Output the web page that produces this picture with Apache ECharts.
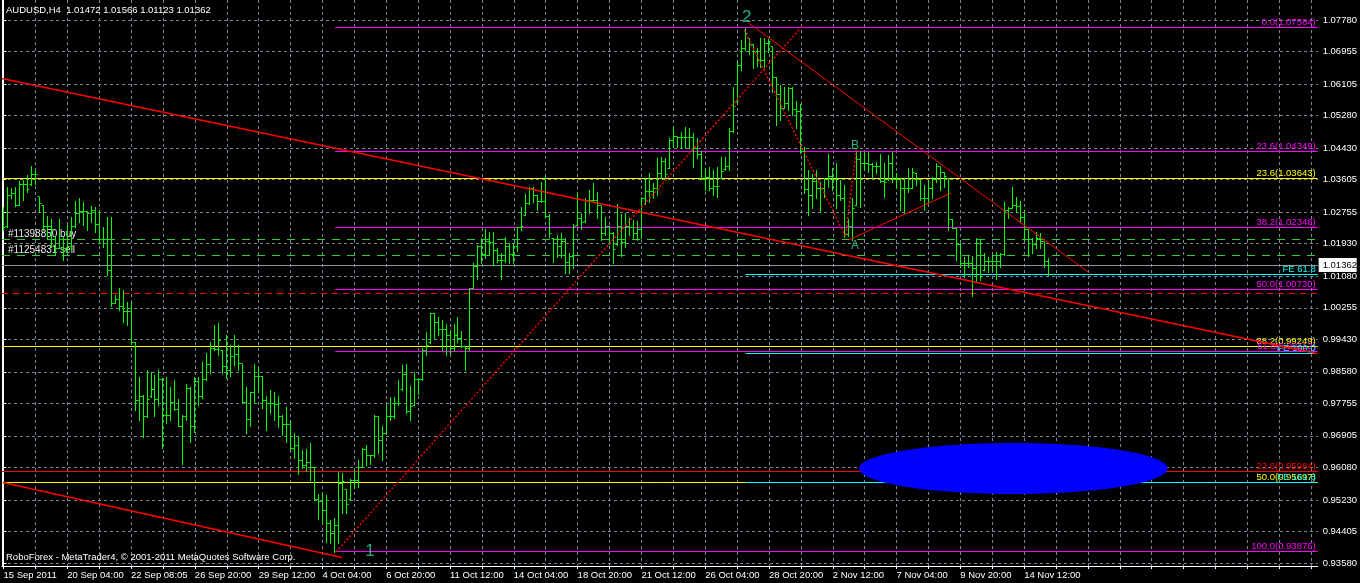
<!DOCTYPE html>
<html><head><meta charset="utf-8">
<script src="https://cdn.jsdelivr.net/npm/echarts@6/dist/echarts.min.js"></script>
<style>html,body{margin:0;padding:0;background:#000;}#c{width:1360px;height:583px;}</style>
</head><body><div id="c"></div>
<script>
// ---- OHLC data (H4 bars, index 0 = 15 Sep 2011) ----
const open = [
1.0262,1.0237,1.0320,1.0325,1.0294,1.0347,1.0349,1.0347,1.0373,1.0316,
1.0294,1.0237,1.0237,1.0211,1.0181,1.0203,1.0181,1.0185,1.0237,1.0272,
1.0277,1.0277,1.0272,1.0281,1.0242,1.0203,1.0203,1.0124,1.0037,1.0046,
1.0028,1.0015,1.0015,0.9934,0.9782,0.9793,0.9740,0.9793,0.9811,0.9786,
0.9837,0.9745,0.9745,0.9778,0.9760,0.9715,0.9740,0.9815,0.9715,0.9832,
0.9793,0.9837,0.9876,0.9920,0.9917,0.9915,0.9873,0.9861,0.9898,0.9902,
0.9879,0.9777,0.9734,0.9803,0.9847,0.9847,0.9784,0.9776,0.9776,0.9773,
0.9740,0.9719,0.9721,0.9658,0.9665,0.9625,0.9612,0.9620,0.9608,0.9525,
0.9520,0.9495,0.9462,0.9436,0.9455,0.9567,0.9549,0.9523,0.9575,0.9575,
0.9609,0.9655,0.9638,0.9638,0.9740,0.9678,0.9697,0.9740,0.9740,0.9776,
0.9811,0.9850,0.9754,0.9771,0.9837,0.9837,0.9915,0.9934,1.0011,0.9986,
0.9969,0.9969,0.9954,0.9920,0.9954,0.9946,0.9924,0.9920,1.0076,1.0133,
1.0187,1.0164,1.0198,1.0196,1.0175,1.0150,1.0150,1.0185,1.0164,1.0185,
1.0236,1.0268,1.0298,1.0338,1.0320,1.0303,1.0303,1.0264,1.0207,1.0205,
1.0185,1.0198,1.0143,1.0159,1.0240,1.0260,1.0250,1.0307,1.0307,1.0307,
1.0292,1.0220,1.0237,1.0220,1.0190,1.0237,1.0196,1.0237,1.0236,1.0220,
1.0229,1.0312,1.0329,1.0329,1.0338,1.0377,1.0409,1.0390,1.0462,1.0473,
1.0470,1.0470,1.0470,1.0470,1.0443,1.0425,1.0362,1.0366,1.0338,1.0342,
1.0364,1.0386,1.0394,1.0486,1.0564,1.0658,1.0704,1.0730,1.0713,1.0695,
1.0673,1.0673,1.0717,1.0708,1.0627,1.0582,1.0547,1.0560,1.0599,1.0543,
1.0538,1.0434,1.0334,1.0320,1.0355,1.0338,1.0338,1.0360,1.0368,1.0360,
1.0320,1.0312,1.0216,1.0237,1.0294,1.0412,1.0403,1.0403,1.0399,1.0394,
1.0396,1.0355,1.0360,1.0403,1.0360,1.0360,1.0338,1.0338,1.0338,1.0377,
1.0360,1.0312,1.0312,1.0338,1.0360,1.0394,1.0379,1.0364,1.0257,1.0233,
1.0190,1.0140,1.0140,1.0140,1.0129,1.0194,1.0124,1.0146,1.0146,1.0146,
1.0146,1.0164,1.0281,1.0286,1.0294,1.0290,1.0262,1.0229,1.0203,1.0190,
1.0207,1.0198,1.01472];
const high = [
1.0290,1.0342,1.0338,1.0342,1.0358,1.0360,1.0373,1.0396,1.0386,1.0316,
1.0294,1.0265,1.0257,1.0211,1.0257,1.0211,1.0242,1.0264,1.0305,1.0312,
1.0303,1.0277,1.0292,1.0290,1.0281,1.0237,1.0264,1.0264,1.0059,1.0076,
1.0072,1.0041,1.0040,0.9937,0.9845,0.9797,0.9863,0.9858,0.9850,0.9864,
0.9841,0.9845,0.9819,0.9837,0.9786,0.9745,0.9826,0.9819,0.9845,0.9845,
0.9884,0.9906,0.9937,0.9980,0.9985,0.9915,0.9954,0.9928,0.9954,0.9928,
0.9879,0.9819,0.9806,0.9879,0.9871,0.9847,0.9795,0.9811,0.9806,0.9795,
0.9745,0.9767,0.9727,0.9697,0.9691,0.9654,0.9655,0.9671,0.9608,0.9538,
0.9540,0.9536,0.9471,0.9475,0.9597,0.9593,0.9549,0.9579,0.9601,0.9627,
0.9658,0.9666,0.9640,0.9745,0.9742,0.9716,0.9771,0.9793,0.9793,0.9837,
0.9876,0.9879,0.9821,0.9858,0.9838,0.9920,0.9963,1.0013,1.0013,1.0002,
0.9994,0.9983,0.9967,0.9983,1.0002,0.9966,0.9924,1.0076,1.0142,1.0189,
1.0207,1.0231,1.0224,1.0224,1.0181,1.0168,1.0211,1.0194,1.0196,1.0236,
1.0288,1.0323,1.0342,1.0340,1.0320,1.0355,1.0368,1.0271,1.0207,1.0216,
1.0220,1.0207,1.0170,1.0245,1.0325,1.0274,1.0312,1.0334,1.0353,1.0329,
1.0292,1.0262,1.0240,1.0224,1.0297,1.0271,1.0274,1.0260,1.0255,1.0253,
1.0316,1.0366,1.0377,1.0351,1.0416,1.0421,1.0416,1.0470,1.0499,1.0473,
1.0486,1.0499,1.0495,1.0482,1.0469,1.0435,1.0390,1.0394,1.0386,1.0394,
1.0421,1.0421,1.0496,1.0604,1.0669,1.0726,1.0758,1.0730,1.0714,1.0705,
1.0730,1.0730,1.0728,1.0708,1.0630,1.0608,1.0604,1.0604,1.0604,1.0566,
1.0558,1.0447,1.0386,1.0374,1.0386,1.0355,1.0364,1.0427,1.0392,1.0403,
1.0360,1.0347,1.0257,1.0312,1.0435,1.0436,1.0433,1.0433,1.0403,1.0407,
1.0428,1.0403,1.0425,1.0433,1.0377,1.0364,1.0364,1.0390,1.0390,1.0377,
1.0360,1.0347,1.0360,1.0368,1.0403,1.0394,1.0381,1.0364,1.0257,1.0233,
1.0194,1.0159,1.0164,1.0161,1.0207,1.0203,1.0168,1.0159,1.0164,1.0172,
1.0168,1.0303,1.0290,1.0342,1.0316,1.0305,1.0281,1.0229,1.0207,1.0224,
1.0220,1.0198,1.01566];
const low = [
1.0229,1.0237,1.0312,1.0292,1.0294,1.0307,1.0329,1.0347,1.0349,1.0279,
1.0229,1.0207,1.0185,1.0164,1.0181,1.0150,1.0168,1.0177,1.0237,1.0250,
1.0242,1.0229,1.0250,1.0224,1.0194,1.0184,1.0111,1.0031,1.0037,1.0020,
0.9989,0.9980,0.9932,0.9758,0.9732,0.9688,0.9740,0.9793,0.9742,0.9771,
0.9658,0.9723,0.9732,0.9758,0.9715,0.9617,0.9732,0.9675,0.9701,0.9771,
0.9789,0.9837,0.9854,0.9915,0.9902,0.9854,0.9841,0.9847,0.9876,0.9863,
0.9776,0.9699,0.9715,0.9780,0.9806,0.9763,0.9706,0.9749,0.9732,0.9713,
0.9693,0.9675,0.9655,0.9632,0.9590,0.9606,0.9599,0.9575,0.9523,0.9472,
0.9462,0.9414,0.9410,0.9388,0.9410,0.9488,0.9488,0.9523,0.9553,0.9558,
0.9609,0.9614,0.9618,0.9636,0.9646,0.9627,0.9697,0.9732,0.9736,0.9771,
0.9811,0.9749,0.9732,0.9771,0.9800,0.9837,0.9902,0.9934,0.9946,0.9954,
0.9915,0.9902,0.9906,0.9915,0.9937,0.9924,0.9863,0.9915,1.0076,1.0102,
1.0142,1.0155,1.0164,1.0137,1.0146,1.0100,1.0146,1.0143,1.0142,1.0175,
1.0229,1.0268,1.0298,1.0303,1.0281,1.0303,1.0264,1.0211,1.0146,1.0159,
1.0159,1.0117,1.0116,1.0129,1.0240,1.0231,1.0250,1.0274,1.0303,1.0260,
1.0203,1.0216,1.0192,1.0143,1.0190,1.0161,1.0185,1.0216,1.0205,1.0203,
1.0207,1.0298,1.0303,1.0312,1.0320,1.0364,1.0364,1.0390,1.0447,1.0447,
1.0443,1.0443,1.0443,1.0394,1.0416,1.0362,1.0334,1.0334,1.0320,1.0316,
1.0364,1.0386,1.0386,1.0486,1.0564,1.0647,1.0700,1.0688,1.0653,1.0658,
1.0656,1.0656,1.0695,1.0590,1.0504,1.0517,1.0547,1.0543,1.0530,1.0495,
1.0429,1.0325,1.0268,1.0286,1.0313,1.0279,1.0316,1.0342,1.0334,1.0286,
1.0307,1.0211,1.0213,1.0203,1.0294,1.0290,1.0386,1.0381,1.0364,1.0377,
1.0355,1.0316,1.0360,1.0355,1.0338,1.0281,1.0272,1.0329,1.0338,1.0347,
1.0307,1.0281,1.0303,1.0312,1.0355,1.0334,1.0342,1.0229,1.0233,1.0150,
1.0133,1.0107,1.0133,1.0055,1.0094,1.0098,1.0124,1.0120,1.0124,1.0102,
1.0133,1.0164,1.0260,1.0286,1.0277,1.0250,1.0203,1.0161,1.0168,1.0181,
1.0181,1.0133,1.01123];
const close = [
1.0236,1.0320,1.0325,1.0294,1.0347,1.0349,1.0335,1.0373,1.0373,1.0298,
1.0237,1.0237,1.0229,1.0181,1.0203,1.0181,1.0185,1.0237,1.0272,1.0277,
1.0277,1.0272,1.0281,1.0242,1.0203,1.0203,1.0124,1.0037,1.0046,1.0028,
1.0015,1.0015,0.9934,0.9782,0.9793,0.9740,0.9786,0.9811,0.9786,0.9837,
0.9745,0.9745,0.9778,0.9760,0.9715,0.9740,0.9815,0.9715,0.9832,0.9793,
0.9837,0.9876,0.9920,0.9917,0.9941,0.9873,0.9861,0.9898,0.9902,0.9879,
0.9777,0.9734,0.9803,0.9847,0.9847,0.9784,0.9776,0.9776,0.9773,0.9740,
0.9719,0.9721,0.9658,0.9665,0.9625,0.9612,0.9620,0.9608,0.9525,0.9520,
0.9495,0.9462,0.9436,0.9455,0.9567,0.9571,0.9510,0.9575,0.9575,0.9609,
0.9655,0.9638,0.9638,0.9740,0.9678,0.9697,0.9740,0.9740,0.9776,0.9776,
0.9850,0.9754,0.9767,0.9837,0.9837,0.9915,0.9928,1.0011,0.9986,0.9969,
0.9969,0.9954,0.9920,0.9954,0.9946,0.9924,0.9920,1.0076,1.0133,1.0187,
1.0164,1.0198,1.0196,1.0175,1.0150,1.0150,1.0185,1.0164,1.0185,1.0236,
1.0237,1.0298,1.0338,1.0320,1.0303,1.0303,1.0264,1.0220,1.0205,1.0185,
1.0198,1.0143,1.0159,1.0237,1.0260,1.0248,1.0307,1.0307,1.0307,1.0292,
1.0220,1.0237,1.0220,1.0177,1.0237,1.0196,1.0237,1.0236,1.0220,1.0229,
1.0312,1.0329,1.0329,1.0338,1.0377,1.0409,1.0373,1.0462,1.0473,1.0470,
1.0470,1.0470,1.0470,1.0443,1.0425,1.0362,1.0366,1.0338,1.0342,1.0342,
1.0381,1.0394,1.0486,1.0551,1.0658,1.0704,1.0743,1.0713,1.0695,1.0673,
1.0673,1.0717,1.0721,1.0627,1.0582,1.0547,1.0560,1.0599,1.0543,1.0538,
1.0434,1.0334,1.0320,1.0355,1.0338,1.0338,1.0360,1.0368,1.0360,1.0320,
1.0312,1.0216,1.0237,1.0286,1.0412,1.0403,1.0403,1.0399,1.0394,1.0396,
1.0355,1.0353,1.0403,1.0360,1.0360,1.0338,1.0338,1.0338,1.0379,1.0360,
1.0312,1.0312,1.0338,1.0360,1.0394,1.0379,1.0368,1.0257,1.0233,1.0190,
1.0140,1.0140,1.0140,1.0129,1.0194,1.0107,1.0146,1.0146,1.0146,1.0146,
1.0164,1.0281,1.0286,1.0294,1.0290,1.0262,1.0229,1.0203,1.0190,1.0207,
1.0198,1.0147,1.01362];

// ---- axes ----
const xLabelBars = [0,16,32,48,64,80,96,112,128,144,160,176,192,208,224,240,256];
const xLabels = ['15 Sep 2011','20 Sep 04:00','22 Sep 08:05','26 Sep 20:00','29 Sep 12:00','4 Oct 04:00','6 Oct 20:00','11 Oct 12:00','14 Oct 04:00','18 Oct 20:00','21 Oct 12:00','26 Oct 04:00','28 Oct 20:00','2 Nov 12:00','7 Nov 04:00','9 Nov 20:00','14 Nov 12:00'];
const xGridBars = [0,8,16,24,32,40,48,56,64,72,80,88,96,104,112,120,128,136,144,152,160,168,176,184,192,200,208,216,224,232,240,248,256,264,272,280,288,296,304,312,320,328];
const yTicks = [1.07780,1.06955,1.06105,1.05280,1.04430,1.03605,1.02755,1.01930,1.01080,1.00255,0.99430,0.98580,0.97755,0.96905,0.96080,0.95230,0.94405,0.93580];

// ---- objects ----
const magentaLevels = ['0.0','23.6','38.2','50.0','61.8','100.0'];
const magentaPrices = [1.07584,1.04349,1.02348,1.00730,0.99112,0.93876];
const magentaStartBar = 83.2;
const yellowLevels = ['23.6','38.2','50.0'];
const yellowPrices = [1.03643,0.99249,0.95697];
const redFibLevels = ['23.6'];
const redFibPrices = [0.95984];
const feLevels = ['FE 61.8','FE 100.0','FE 161.8'];
const fePrices = [1.01131,0.99055,0.95681];
const feStartBar = 186.1;
const orderNames = ['#11398850 buy','#11254831 sell'];
const orderPrices = [1.0205,1.0163];
const stopPrice = 1.00633;
const bidPrice = 1.01362;
const trendSolid = [
  [[-0.375,1.0625],[329.625,0.9905]],
  [[-0.125,0.95686],[84.9,0.93724]],
  [[186.9,1.07702],[272.4,1.0116]],
  [[212.0,1.0203],[237.7,1.0326]]
];
const trendSolidWidth = [1.6,1.6,1,1];
const trendDotted = [
  [[83.4,0.93868],[200.6,1.07649]],
  [[185.8,1.07519],[211.2,1.02114],[213.9,1.0439]]
];
const waveNames = ['1','2','A','B'];
const wavePos = [[91.9,0.93894],[186.4,1.0786],[213.6,1.0187],[213.6,1.04485]];
const waveSizes = [17,17,12,12];
const ellipseBox = [214.6,0.96719,292.0,0.95385];

const FONT = '"Liberation Sans", Arial, sans-serif';
const XMIN = -0.375, XMAX = 329.625;
const chart = echarts.init(document.getElementById('c'), null, {renderer:'canvas'});

const snap = v => Math.round(v - 0.5) + 0.5;
function renderOHLC(params, api){
  const i = api.value(0);
  const pO = api.coord([i, api.value(1)]);
  const pH = api.coord([i, api.value(2)]);
  const pL = api.coord([i, api.value(3)]);
  const pC = api.coord([i, api.value(4)]);
  const x = snap(pH[0]);
  const col = '#00FF00';
  const st = {stroke:col, lineWidth:1};
  return {type:'group', children:[
    {type:'line', shape:{x1:x, y1:Math.round(pH[1]), x2:x, y2:Math.round(pL[1])+1}, style:st},
    {type:'line', shape:{x1:x-2, y1:snap(pO[1]), x2:x, y2:snap(pO[1])}, style:st},
    {type:'line', shape:{x1:x, y1:snap(pC[1]), x2:x+2, y2:snap(pC[1])}, style:st}
  ]};
}
function renderEllipse(params, api){
  const a = api.coord([api.value(0), api.value(1)]);
  const b = api.coord([api.value(2), api.value(3)]);
  const cx=(a[0]+b[0])/2, cy=(a[1]+b[1])/2, rx=Math.abs(b[0]-a[0])/2, ry=Math.abs(b[1]-a[1])/2;
  const pts=[];
  for(let k=0;k<96;k++){const t=k/96*2*Math.PI; pts.push([cx+rx*Math.cos(t), cy+ry*Math.sin(t)]);}
  return {type:'polygon', shape:{points:pts}, style:{fill:'#0000FF'}};
}

// horizontal level objects (styles kept here, values from the arrays above)
const hItems = [];
const fmtLevel = (l,p) => l + '(' + p.toFixed(5) + ')';
yellowPrices.forEach((p,k)=>hItems.push({start:XMIN, price:p, color:'#FFFF00', text:fmtLevel(yellowLevels[k],p), side:'right'}));
redFibPrices.forEach((p,k)=>hItems.push({start:XMIN, price:p, color:'#FF0000', text:fmtLevel(redFibLevels[k],p), side:'right'}));
orderPrices.forEach((p,k)=>hItems.push({start:XMIN, price:p, color:'#32CD32', dash:[8,7], text:orderNames[k], side:'left', textColor:'#E8E8E8'}));
hItems.push({start:XMIN, price:stopPrice, color:'#FF0000', dash:[6,5]});
hItems.push({start:XMIN, price:bidPrice, color:'#8C96A0', text:bidPrice.toFixed(5), side:'axis'});
magentaPrices.forEach((p,k)=>hItems.push({start:magentaStartBar, price:p, color:'#FF00FF', text:fmtLevel(magentaLevels[k],p), side:'right'}));
fePrices.forEach((p,k)=>hItems.push({start:feStartBar, price:p, color:'#00FFFF', text:feLevels[k], side:'right'}));

function renderHLine(params, api){
  const it = hItems[params.dataIndex];
  const a = api.coord([api.value(0), api.value(2)]);
  const b = api.coord([api.value(1), api.value(2)]);
  const y = snap(a[1]);
  const ch = [{type:'line', shape:{x1:a[0], y1:y, x2:b[0], y2:y}, style:{stroke:it.color, lineWidth:1, lineDash:it.dash||null}}];
  const font = '9.5px ' + FONT;
  if (it.side === 'right') ch.push({type:'text', style:{text:it.text, x:b[0]-2, y:y, align:'right', verticalAlign:'bottom', fill:it.color, font:font}});
  if (it.side === 'left') ch.push({type:'text', style:{text:it.text, x:a[0]+6, y:y, align:'left', verticalAlign:'bottom', fill:it.textColor, font:'10px ' + FONT}});
  if (it.side === 'axis') {
    ch.push({type:'rect', shape:{x:b[0]+1, y:y-7.5, width:38, height:14}, style:{fill:'#FFFFFF'}});
    ch.push({type:'text', style:{text:it.text, x:b[0]+5, y:y, align:'left', verticalAlign:'middle', fill:'#000000', font:font}});
  }
  return {type:'group', children:ch};
}

const series = [
  {type:'custom', name:'levels', renderItem:renderHLine, clip:false, silent:true, z:3,
    data:hItems.map(it=>[it.start, XMAX, it.price]), encode:{x:[0,1], y:2}},
  {type:'custom', name:'bars', renderItem:renderOHLC, data:open.map((o,i)=>[i,o,high[i],low[i],close[i]]), encode:{x:0, y:[1,2,3,4]}, z:4, silent:true},
  {type:'custom', name:'ellipse', renderItem:renderEllipse, data:[ellipseBox], encode:{x:[0,2], y:[1,3]}, z:5, silent:true}
];
trendSolid.forEach((seg,k)=>series.push({type:'line', data:seg, showSymbol:false, symbol:'none', silent:true, z:6,
  lineStyle:{color:'#FF0000', width:trendSolidWidth[k]}}));
trendDotted.forEach(seg=>series.push({type:'line', data:seg, showSymbol:false, symbol:'none', silent:true, z:6,
  lineStyle:{color:'#FF0000', width:1.4, type:[2,2]}}));
series.push({type:'scatter', silent:true, z:7, symbolSize:1, itemStyle:{color:'rgba(0,0,0,0)'},
  data: waveNames.map((n,k)=>({name:n, value:wavePos[k], label:{show:true, position:'inside', formatter:n, color:'#33D6A0', fontSize:waveSizes[k], fontFamily:FONT}}))});

chart.setOption({
  animation:false,
  backgroundColor:'#000',
  title:[
    {text:'AUDUSD,H4  1.01472 1.01566 1.01123 1.01362', left:6, top:5, padding:0, textStyle:{color:'#FFFFFF', fontSize:9.5, fontWeight:'normal', fontFamily:FONT}},
    {text:'RoboForex - MetaTrader4, © 2001-2011 MetaQuotes Software Corp.', left:6, top:552, padding:0, textStyle:{color:'#FFFFFF', fontSize:9.5, fontWeight:'normal', fontFamily:FONT}}
  ],
  grid:{left:2, right:38, top:0, bottom:17, containLabel:false},
  xAxis:{type:'value', min:XMIN, max:XMAX,
    axisLine:{show:true, lineStyle:{color:'#FFFFFF', width:1}},
    axisTick:{show:true, customValues:xGridBars, length:3, lineStyle:{color:'#FFFFFF'}},
    axisLabel:{show:true, customValues:xLabelBars, formatter:v=>xLabels[xLabelBars.indexOf(Math.round(v))]||'', color:'#FFFFFF', fontSize:9.5, fontFamily:FONT, align:'left', margin:4},
    splitLine:{show:true, lineStyle:{color:'#778899', width:1, type:[3,3]}}},
  yAxis:[
    {type:'value', position:'right', min:0.93502, max:1.08303,
      axisLine:{show:true, lineStyle:{color:'#FFFFFF', width:1}},
      axisTick:{show:true, customValues:yTicks, length:3, lineStyle:{color:'#FFFFFF'}},
      axisLabel:{show:true, customValues:yTicks, formatter:v=>v.toFixed(5), color:'#FFFFFF', fontSize:9.5, fontFamily:FONT, margin:5},
      splitLine:{show:true, lineStyle:{color:'#778899', width:1, type:[3,3]}}},
    {type:'value', position:'left', min:0.93502, max:1.08303,
      axisLine:{show:true, onZero:false, lineStyle:{color:'#FFFFFF', width:1}},
      axisTick:{show:false}, axisLabel:{show:false}, splitLine:{show:false}}
  ],
  series: series
});
</script></body></html>
